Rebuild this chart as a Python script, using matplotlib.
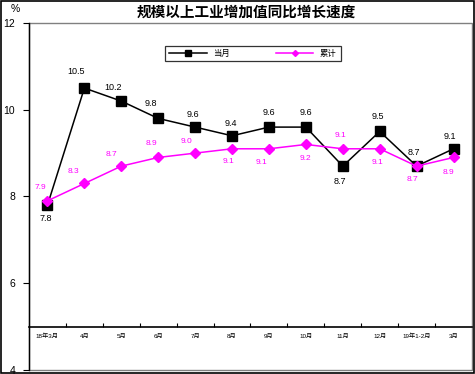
import matplotlib
matplotlib.use("Agg")
import matplotlib.pyplot as plt
from matplotlib.patches import Rectangle

plt.rcParams['font.family'] = ['Liberation Sans', 'Noto Sans CJK SC']

months = ["18年3月", "4月", "5月", "6月", "7月", "8月", "9月", "10月",
          "11月", "12月", "19年1-2月", "3月"]
monthly = [7.8, 10.5, 10.2, 9.8, 9.6, 9.4, 9.6, 9.6, 8.7, 9.5, 8.7, 9.1]
cumulative = [7.9, 8.3, 8.7, 8.9, 9.0, 9.1, 9.1, 9.2, 9.1, 9.1, 8.7, 8.9]

# label offsets in pixels (dx, dy), dy up
monthly_off = [(-2, -13), (-8, 17), (-8, 14), (-7, 15), (-2, 13), (-1, 12),
               (0, 15), (0, 15), (-3, -15), (-2, 15), (-3, 14), (-4, 12)]
cum_off = [(-7, 13), (-11, 12), (-10, 12), (-7, 14), (-9, 12), (-4, -13),
           (-7, -14), (0, -14), (-2, 13), (-2, -14), (-4, -13), (-5, -15)]

fig = plt.figure(figsize=(4.75, 3.74), dpi=100)
ax = fig.add_axes([29/475, 1-370/374, 443/475, 347/374])

x = list(range(len(months)))
ax.plot(x, monthly, color='black', lw=1.1, marker='s', ms=6.5,
        mfc='black', mec='black', label='当月', zorder=3)
ax.plot(x, cumulative, color='#FF00FF', lw=1.1, marker='D', ms=5,
        mfc='#FF00FF', mec='#FF00FF', label='累计', zorder=4)

for i, v in enumerate(monthly):
    dx, dy = monthly_off[i]
    ax.annotate(f"{v:.1f}", (i, v), xytext=(dx * 0.72, dy * 0.72),
                textcoords='offset points', ha='center', va='center',
                fontsize=6.5, color='black')
for i, v in enumerate(cumulative):
    dx, dy = cum_off[i]
    ax.annotate(f"{v:.1f}", (i, v), xytext=(dx * 0.72, dy * 0.72),
                textcoords='offset points', ha='center', va='center',
                fontsize=6, color='#FF00FF')

ax.set_xlim(-0.5, len(months) - 0.5)
ax.set_ylim(4, 12)
ax.set_yticks([4, 6, 8, 10, 12])
ax.tick_params(axis='y', direction='out', length=4, width=0.8, labelsize=7.5, pad=6)

ax.spines['bottom'].set_position(('data', 5))
ax.spines['bottom'].set_linewidth(1.2)
ax.spines['left'].set_linewidth(1.0)
for s in ['top', 'right']:
    ax.spines[s].set_visible(False)
ax.set_xticks(x)
ax.set_xticklabels(months, fontsize=4.5)
ax.set_xticks([i + 0.5 for i in x[:-1]], minor=True)
ax.tick_params(axis='x', which='major', length=0, pad=5)
ax.tick_params(axis='x', which='minor', direction='in', length=3, width=0.8)

ax.add_patch(Rectangle((0, 0), 1, 1, transform=ax.transAxes, fill=False,
                       edgecolor='#808080', lw=1.0, clip_on=False, zorder=0))

ax.text(-0.03, 1.04, "%", transform=ax.transAxes, fontsize=7.5, ha='center', va='center')

leg = ax.legend(loc='center', ncol=2, fontsize=6, frameon=True, fancybox=False,
                edgecolor='black', handlelength=4.5, columnspacing=5.5,
                markerscale=0.6, borderpad=0.45, handletextpad=0.8,
                borderaxespad=0)
leg.set_bbox_to_anchor(((253 - 29) / 443, (370 - 53.5) / 347), transform=ax.transAxes)
leg.get_frame().set_linewidth(0.9)

fig.text(246/475, 1 - 12/374, "规模以上工业增加值同比增长速度", ha='center', va='center',
         fontsize=10.5, fontweight='bold', family=['Noto Sans CJK SC'])

fig.add_artist(Rectangle((0.002, 0.004), 0.995, 0.993, transform=fig.transFigure,
                         fill=False, edgecolor='black', lw=1.2))

fig.savefig("out.png", dpi=100)
